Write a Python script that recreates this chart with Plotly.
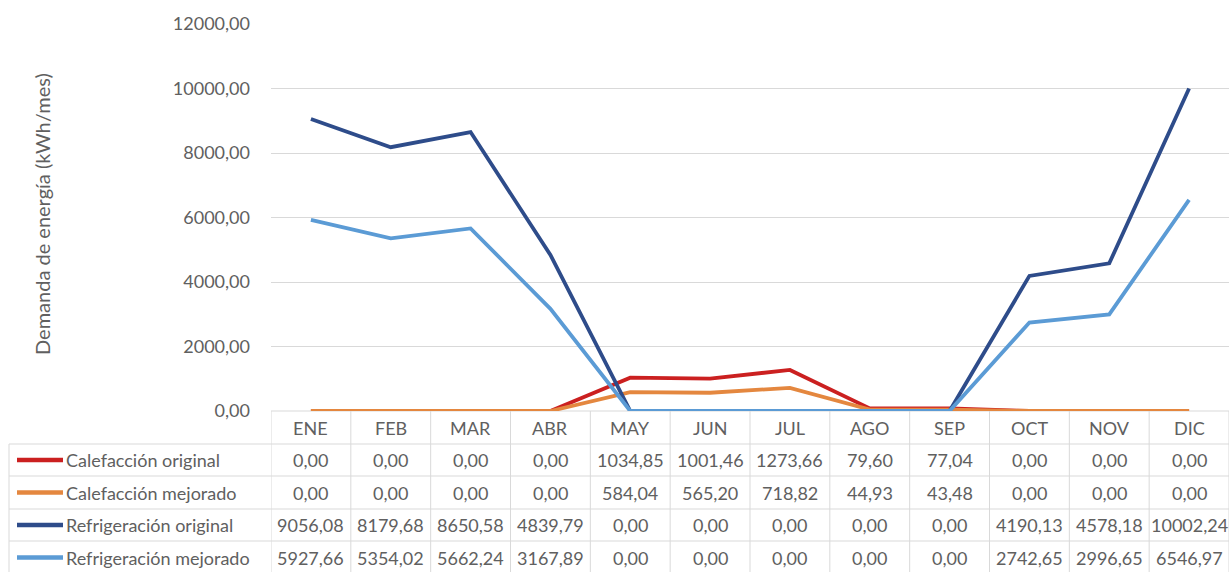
import plotly.graph_objects as go

months = ["ENE", "FEB", "MAR", "ABR", "MAY", "JUN", "JUL", "AGO", "SEP", "OCT", "NOV", "DIC"]
series_names = ["Calefacción original", "Calefacción mejorado",
                "Refrigeración original", "Refrigeración mejorado"]
calef_original = [0.00, 0.00, 0.00, 0.00, 1034.85, 1001.46, 1273.66, 79.60, 77.04, 0.00, 0.00, 0.00]
calef_mejorado = [0.00, 0.00, 0.00, 0.00, 584.04, 565.20, 718.82, 44.93, 43.48, 0.00, 0.00, 0.00]
refri_original = [9056.08, 8179.68, 8650.58, 4839.79, 0.00, 0.00, 0.00, 0.00, 0.00, 4190.13, 4578.18, 10002.24]
refri_mejorado = [5927.66, 5354.02, 5662.24, 3167.89, 0.00, 0.00, 0.00, 0.00, 0.00, 2742.65, 2996.65, 6546.97]
y_ticks = [0, 2000, 4000, 6000, 8000, 10000, 12000]

series_values = [calef_original, calef_mejorado, refri_original, refri_mejorado]
colors = ["#CB2020", "#E4873F", "#2E4C8A", "#5B9BD5"]

W, H = 1229, 572
L, R, T, B = 271, 0, 24, 161
plot_w = W - L - R
plot_h = H - T - B
FONT = "Lato"
FS = 18
TXT = "#606060"
GRID = "#D9D9D9"

def py(Y):  # pixel Y -> paper y
    return (H - B - Y) / plot_h

def px(X):  # pixel X -> paper x
    return (X - L) / plot_w

def fmt(v):
    return f"{v:.2f}".replace(".", ",")

fig = go.Figure()
x_idx = list(range(len(months)))
for name, vals, col in zip(series_names, series_values, colors):
    fig.add_trace(go.Scatter(x=x_idx, y=vals, mode="lines", name=name,
                             line=dict(color=col, width=3.8), cliponaxis=False))

shapes = []
annotations = []
row_edges = [H - B, 444, 476, 509, 541, 574]
# horizontal lines
shapes.append(dict(type="line", xref="x", yref="paper", x0=-0.5, x1=11.5,
                   y0=py(row_edges[0]), y1=py(row_edges[0]), line=dict(color=GRID, width=1), layer="below"))
for Y in row_edges[1:]:
    shapes.append(dict(type="line", xref="paper", yref="paper", x0=px(9), x1=1,
                       y0=py(Y), y1=py(Y), line=dict(color=GRID, width=1)))
# vertical lines
for k in range(len(months) + 1):
    shapes.append(dict(type="line", xref="x", yref="paper", x0=k - 0.5, x1=k - 0.5,
                       y0=py(row_edges[0]), y1=py(row_edges[-1]), line=dict(color=GRID, width=1)))
shapes.append(dict(type="line", xref="paper", yref="paper", x0=px(9), x1=px(9),
                   y0=py(row_edges[1]), y1=py(row_edges[-1]), line=dict(color=GRID, width=1)))

# header
hy = py((row_edges[0] + row_edges[1]) / 2)
for i, m in enumerate(months):
    annotations.append(dict(x=i, y=hy, xref="x", yref="paper", text=m, showarrow=False,
                            xanchor="center", yanchor="middle",
                            font=dict(family=FONT, size=FS, color=TXT)))
# rows
for r, (name, vals, col) in enumerate(zip(series_names, series_values, colors)):
    cy_pix = (row_edges[r + 1] + row_edges[r + 2]) / 2
    cy = py(cy_pix)
    shapes.append(dict(type="line", xref="paper", yref="paper", x0=px(17), x1=px(63),
                       y0=cy, y1=cy, line=dict(color=col, width=4.5)))
    annotations.append(dict(x=px(64), y=cy, xref="paper", yref="paper", text=name,
                            showarrow=False, xanchor="left", yanchor="middle",
                            font=dict(family=FONT, size=FS, color=TXT)))
    for i, v in enumerate(vals):
        annotations.append(dict(x=i, y=cy, xref="x", yref="paper", text=fmt(v),
                                showarrow=False, xanchor="center", yanchor="middle",
                                font=dict(family=FONT, size=FS, color=TXT)))

# y axis title
annotations.append(dict(x=px(42), y=py(214), xref="paper", yref="paper",
                        text="Demanda de energía (kWh/mes)", textangle=-90, showarrow=False,
                        xanchor="center", yanchor="middle",
                        font=dict(family=FONT, size=20, color=TXT)))

fig.update_layout(
    width=W, height=H,
    margin=dict(l=L, r=R, t=T, b=B, pad=0),
    paper_bgcolor="white", plot_bgcolor="white",
    showlegend=False,
    separators=",.",
    shapes=shapes, annotations=annotations,
    font=dict(family=FONT, size=FS, color=TXT),
    xaxis=dict(range=[-0.5, 11.5], showticklabels=False, showgrid=False, zeroline=False,
               showline=False, ticks="", fixedrange=True),
    yaxis=dict(range=[0, 12000], tickvals=y_ticks, tickformat=".2f", showgrid=True,
               gridcolor=GRID, gridwidth=1, zeroline=False, showline=False, ticks="",
               ticklabelstandoff=20, tickfont=dict(family=FONT, size=FS, color=TXT),
               fixedrange=True),
)

fig.write_html("out.html", config={"displayModeBar": False},
               post_script="document.body.style.margin='0';")
